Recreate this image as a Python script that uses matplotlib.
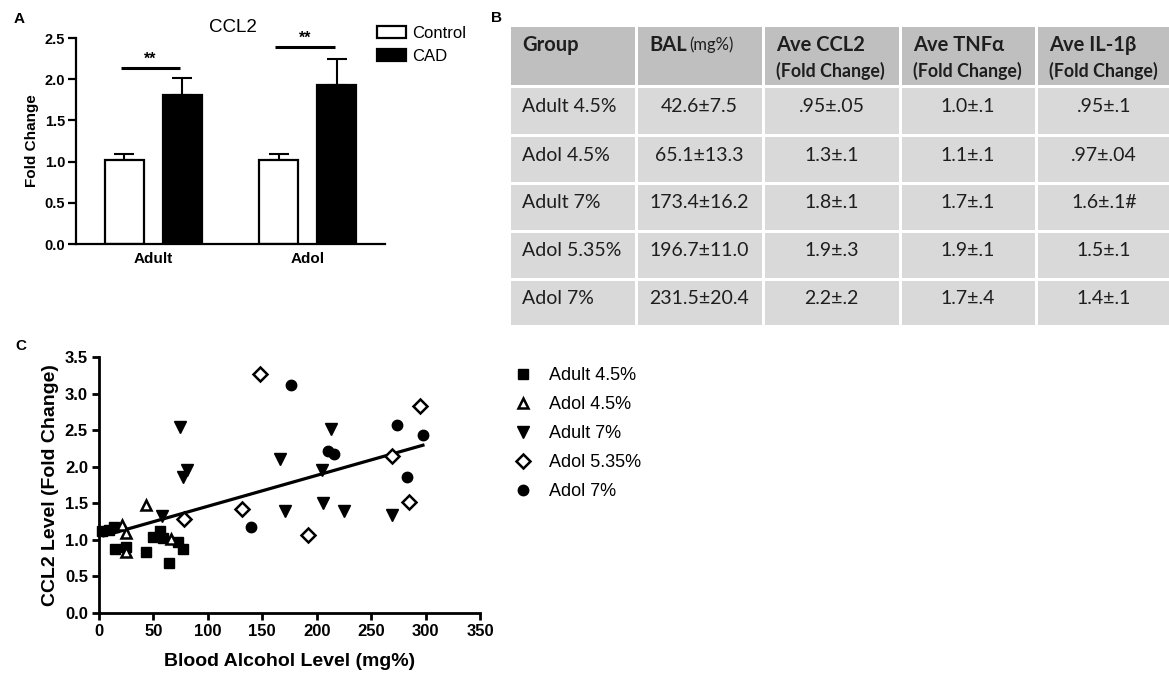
import matplotlib
matplotlib.use('Agg')
import matplotlib.pyplot as plt
from matplotlib.patches import Rectangle, Patch
from matplotlib.lines import Line2D
import numpy as np

# ---------------- data ----------------
# Panel A
groups = ['Adult', 'Adol']
control_mean = [1.02, 1.02]
control_err = [0.07, 0.07]
cad_mean = [1.81, 1.93]
cad_err = [0.20, 0.31]
sig_level = [2.13, 2.39]
sig_text = ['**', '**']

# Panel B (table)
tbl_head1 = ['Group', 'BAL', 'Ave CCL2', 'Ave TNFα', 'Ave IL-1β']
tbl_head2 = ['', '(mg%)', '(Fold Change)', '(Fold Change)', '(Fold Change)']
tbl_group = ['Adult 4.5%', 'Adol 4.5%', 'Adult 7%', 'Adol 5.35%', 'Adol 7%']
tbl_bal = ['42.6±7.5', '65.1±13.3', '173.4±16.2', '196.7±11.0', '231.5±20.4']
tbl_ccl2 = ['.95±.05', '1.3±.1', '1.8±.1', '1.9±.3', '2.2±.2']
tbl_tnfa = ['1.0±.1', '1.1±.1', '1.7±.1', '1.9±.1', '1.7±.4']
tbl_il1b = ['.95±.1', '.97±.04', '1.6±.1#', '1.5±.1', '1.4±.1']

# Panel C (scatter)
adult45_x = [3, 9, 14, 15, 25, 43, 50, 56, 59, 64, 73, 77]
adult45_y = [1.12, 1.14, 1.18, 0.87, 0.90, 0.83, 1.04, 1.12, 1.03, 0.69, 0.97, 0.87]
adol45_x = [21, 24.5, 25, 43, 66]
adol45_y = [1.20, 1.09, 0.83, 1.47, 1.01]
adult7_x = [57.5, 74.5, 77, 81, 166.5, 171, 205, 206, 213, 225, 269]
adult7_y = [1.32, 2.54, 1.86, 1.96, 2.10, 1.39, 1.95, 1.51, 2.51, 1.39, 1.34]
adol535_x = [78, 131, 148, 192, 269.5, 284.5, 294.5]
adol535_y = [1.29, 1.42, 3.27, 1.06, 2.14, 1.52, 2.83]
adol7_x = [140, 176, 210, 216, 274, 282.5, 298]
adol7_y = [1.18, 3.12, 2.22, 2.17, 2.57, 1.86, 2.43]
fit_x = [3, 299]
fit_y = [1.05, 2.30]

# ---------------- figure ----------------
W, H = 1169, 675
fig = plt.figure(figsize=(W / 100, H / 100), dpi=100)

def axes_px(l, t, r, b):
    return fig.add_axes([l / W, 1 - b / H, (r - l) / W, (b - t) / H])

ARIAL = ['Liberation Sans', 'DejaVu Sans']
CAL = ['Lato', 'Open Sans', 'DejaVu Sans']
plt.rcParams['font.family'] = ARIAL

# ---- Panel A ----
axA = axes_px(76, 38, 385, 244)
x = np.arange(len(groups))
off, bw = 0.188, 0.253
axA.errorbar(x - off, control_mean, yerr=[np.zeros(2), control_err], fmt='none',
             ecolor='black', elinewidth=1.5, capsize=7, capthick=1.5, zorder=1)
axA.errorbar(x + off, cad_mean, yerr=[np.zeros(2), cad_err], fmt='none',
             ecolor='black', elinewidth=1.5, capsize=7, capthick=1.5, zorder=1)
axA.bar(x - off, control_mean, width=bw, color='white', edgecolor='black', linewidth=1.6, zorder=2)
axA.bar(x + off, cad_mean, width=bw, color='black', edgecolor='black', linewidth=1.6, zorder=2)
for i in range(len(groups)):
    axA.plot([x[i] - off - 0.025, x[i] + off - 0.013], [sig_level[i]] * 2, color='black', lw=2.2,
             solid_capstyle='butt', clip_on=False)
    axA.text(x[i] - 0.02, sig_level[i] + 0.02, sig_text[i], ha='center', va='bottom',
             fontsize=11.5, fontweight='bold')
axA.set_xlim(-0.502, 1.50)
axA.set_ylim(0, 2.5)
axA.set_yticks(np.arange(0, 2.51, 0.5))
axA.set_yticklabels(['%.1f' % v for v in np.arange(0, 2.51, 0.5)])
axA.set_xticks(x)
axA.set_xticklabels(groups)
for s in ['top', 'right']:
    axA.spines[s].set_visible(False)
for s in ['left', 'bottom']:
    axA.spines[s].set_linewidth(1.6)
axA.tick_params(axis='y', length=5.8, width=1.6, pad=2, labelsize=10.5)
axA.tick_params(axis='x', length=0, pad=6, labelsize=11)
for lab in axA.get_xticklabels() + axA.get_yticklabels():
    lab.set_fontweight('bold')
axA.set_ylabel('Fold Change', fontsize=11, fontweight='bold', labelpad=4)
fig.text(233 / W, 1 - 28 / H, 'CCL2', ha='center', va='center', fontsize=13.5)
handlesA = [Patch(facecolor='white', edgecolor='black', linewidth=1.6),
            Patch(facecolor='black', edgecolor='black', linewidth=1.6)]
fig.legend(handlesA, ['Control', 'CAD'], loc='upper left',
           bbox_to_anchor=(377 / W, 1 - 26 / H), frameon=False, fontsize=12,
           handlelength=1.75, handleheight=0.7, handletextpad=0.35, labelspacing=0.48,
           borderpad=0, borderaxespad=0)
fig.text(19 / W, 1 - 19 / H, 'A', ha='center', va='center', fontsize=11, fontweight='bold')

# ---- Panel B (table) ----
fig.text(497 / W, 1 - 18 / H, 'B', ha='center', va='center', fontsize=11, fontweight='bold')
axB = axes_px(0, 0, W, H)
axB.set_xlim(0, W)
axB.set_ylim(H, 0)
axB.axis('off')
col_edges = [509, 636, 763, 900, 1036, 1172]
row_edges = [25, 86.5, 135.5, 183, 231, 279, 326]
gap = 1.5
for r in range(len(row_edges) - 1):
    for c in range(len(col_edges) - 1):
        fc = '#bfbfbf' if r == 0 else '#d9d9d9'
        axB.add_patch(Rectangle((col_edges[c] + gap, row_edges[r] + gap),
                                col_edges[c + 1] - col_edges[c] - 2 * gap,
                                row_edges[r + 1] - row_edges[r] - 2 * gap,
                                facecolor=fc, edgecolor='none'))
tc = '#1e1e1e'
# header
for c in range(5):
    x0 = col_edges[c] + 13
    axB.text(x0, 45, tbl_head1[c], ha='left', va='center', fontsize=14.5,
             fontweight='bold', family=CAL, color=tc)
    if c >= 2:
        axB.text(x0, 71, tbl_head2[c], ha='left', va='center', fontsize=12.8,
                 fontweight='bold', family=CAL, color=tc)
axB.text(689, 45, tbl_head2[1], ha='left', va='center', fontsize=12, family=CAL, color=tc)
cols = [tbl_group, tbl_bal, tbl_ccl2, tbl_tnfa, tbl_il1b]
for r in range(5):
    yc = (row_edges[r + 1] + row_edges[r + 2]) / 2 - 4
    for c in range(5):
        if c == 0:
            axB.text(col_edges[0] + 13, yc, cols[c][r], ha='left', va='center',
                     fontsize=14, family=CAL, color=tc)
        else:
            axB.text((col_edges[c] + col_edges[c + 1]) / 2, yc, cols[c][r], ha='center',
                     va='center', fontsize=14, family=CAL, color=tc)

# ---- Panel C ----
fig.text(21 / W, 1 - 346 / H, 'C', ha='center', va='center', fontsize=11, fontweight='bold')
axC = axes_px(99, 357, 480, 613)
axC.plot(fit_x, fit_y, color='black', lw=2.3, zorder=2, solid_capstyle='butt')
mk = dict(linestyle='none', zorder=3, clip_on=False)
axC.plot(adult45_x, adult45_y, marker='s', ms=7, mfc='black', mec='black', label='Adult 4.5%', **mk)
axC.plot(adol45_x, adol45_y, marker='^', ms=7.5, mfc='white', mec='black', mew=1.8, label='Adol 4.5%', **mk)
axC.plot(adult7_x, adult7_y, marker='v', ms=8, mfc='black', mec='black', label='Adult 7%', **mk)
axC.plot(adol535_x, adol535_y, marker='D', ms=6.8, mfc='white', mec='black', mew=1.8, label='Adol 5.35%', **mk)
axC.plot(adol7_x, adol7_y, marker='o', ms=7.5, mfc='black', mec='black', label='Adol 7%', **mk)
axC.set_xlim(0, 350)
axC.set_ylim(0, 3.5)
axC.set_xticks(np.arange(0, 351, 50))
axC.set_yticks(np.arange(0, 3.51, 0.5))
axC.set_yticklabels(['%.1f' % v for v in np.arange(0, 3.51, 0.5)])
for s in ['top', 'right']:
    axC.spines[s].set_visible(False)
for s in ['left', 'bottom']:
    axC.spines[s].set_linewidth(2)
axC.tick_params(length=5, width=2, pad=3, labelsize=12)
for lab in axC.get_xticklabels() + axC.get_yticklabels():
    lab.set_fontweight('bold')
axC.set_xlabel('Blood Alcohol Level (mg%)', fontsize=14, fontweight='bold', labelpad=10)
axC.set_ylabel('CCL2 Level (Fold Change)', fontsize=14, fontweight='bold', labelpad=4)
fig.legend(*axC.get_legend_handles_labels(), loc='upper left',
           bbox_to_anchor=(509 / W, 1 - 367 / H), frameon=False, fontsize=13,
           handlelength=1.6, handletextpad=0.64, labelspacing=0.67,
           borderpad=0, borderaxespad=0)

fig.savefig('out.png', dpi=100)
